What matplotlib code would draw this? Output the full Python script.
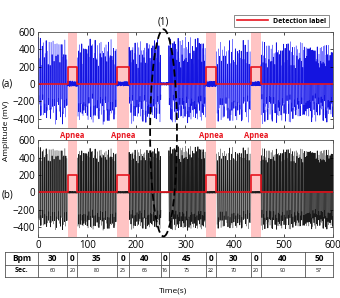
import numpy as np
import matplotlib
matplotlib.use("Agg")
import matplotlib.pyplot as plt
from matplotlib.patches import Ellipse

plt.rcParams['font.family'] = ['Open Sans', 'DejaVu Sans']

# segments
bpm = [30, 0, 35, 0, 40, 0, 45, 0, 30, 0, 40, 50]
secs = [60, 20, 80, 25, 65, 16, 75, 22, 70, 20, 90, 57]
# apnea segments (bpm == 0) picked up by the detector, in order
detected = [1, 1, 0, 1, 1]

# rough envelope of each segment (mV)
amp_a_top = [560, 35, 550, 30, 520, 20, 540, 35, 520, 30, 500, 470]
amp_a_bot = [-470, -30, -480, -25, -470, -15, -460, -35, -470, -25, -460, -440]
amp_b_top = [530, 10, 520, 10, 510, 6, 530, 10, 520, 10, 510, 500]
amp_b_bot = [-430, -8, -440, -8, -430, -6, -440, -8, -430, -8, -430, -420]
# cycle to cycle spread of the peaks (two lists of different length)
cycle_scale = [1.0, 0.55, 0.93, 0.38, 0.82, 0.97, 0.47, 0.74, 0.99, 0.62,
               0.42, 0.9, 0.33, 0.86, 0.68, 0.95, 0.5, 0.79, 0.58]
cycle_scale2 = [0.95, 0.8, 1.0, 0.72, 0.9, 0.85, 0.98, 0.76, 0.88, 1.0, 0.7,
                0.93, 0.82, 0.97, 0.78, 0.91, 0.74, 1.0, 0.86, 0.8, 0.96, 0.84,
                0.9]

edges = np.concatenate([[0], np.cumsum(secs)])


def build_signal(tops, bots, every, spread):
    ts, ys, dark = [], [], []
    k = 0
    for i, b in enumerate(bpm):
        period = 60.0 / b if b > 0 else 0.6
        t0, t1 = edges[i], edges[i + 1]
        n = int(round((t1 - t0) / period))
        period = (t1 - t0) / n
        ph = np.linspace(0, 1, 9)[:-1]
        for c in range(n):
            s = np.sin(2 * np.pi * ph)
            f = cycle_scale[k % 19] * cycle_scale2[k % 23]
            g = cycle_scale[(k * 7 + 3) % 19] * cycle_scale2[(k * 5 + 1) % 23]
            f = 1 - spread * (1 - f)
            g = 1 - spread * (1 - g)
            y = np.where(s > 0, s * tops[i] * f, -s * bots[i] * g)
            ts.append(t0 + period * (c + ph))
            ys.append(y)
            dark.append(np.full(len(ph), k % every == 0))
            k += 1
    return np.concatenate(ts), np.concatenate(ys), np.concatenate(dark)


# detection label as a step line
lab_x, lab_y = [], []
j = 0
for i, b in enumerate(bpm):
    lvl = 0
    if b == 0:
        lvl = 200 if detected[j] else 0
        j += 1
    lab_x += [edges[i], edges[i + 1]]
    lab_y += [lvl, lvl]

apnea_spans = []
j = 0
for i, b in enumerate(bpm):
    if b == 0:
        if detected[j]:
            apnea_spans.append((edges[i], edges[i + 1]))
        j += 1

fig = plt.figure(figsize=(3.4, 2.98), dpi=100)
ax_a = fig.add_axes([0.112, 0.570, 0.867, 0.323])
ax_b = fig.add_axes([0.112, 0.205, 0.867, 0.325])

panels = [(ax_a, amp_a_top, amp_a_bot, '#7878ff', '#1414e0', 2, 0.85),
          (ax_b, amp_b_top, amp_b_bot, '#8a8a8a', '#1a1a1a', 2, 0.45)]
for ax, tops, bots, light, darkc, every, spread in panels:
    for s0, s1 in apnea_spans:
        ax.axvspan(s0, s1, color='#ffc4c4', lw=0, zorder=0)
    t, y, dk = build_signal(tops, bots, every, spread)
    ax.plot(t, y, color=light, lw=0.4, zorder=1)
    ax.plot(t, np.where(dk, y, np.nan), color=darkc, lw=0.5, zorder=1)
    ax.plot(lab_x, lab_y, color='#e8141e', lw=1.2, zorder=2)
    ax.set_xlim(0, 600)
    ax.set_ylim(-510, 600)
    ax.set_yticks([-400, -200, 0, 200, 400, 600])
    ax.set_xticks(range(0, 601, 100))
    ax.tick_params(direction='in', length=2, width=0.5, top=True, right=True,
                   labelsize=7, pad=2)
    for sp in ax.spines.values():
        sp.set_linewidth(0.6)
        sp.set_color('#555555')
ax_a.set_xticklabels([])

ax_a.plot([], [], color='#e8141e', lw=1.2, label='Detection label')
leg = ax_a.legend(loc='lower right', bbox_to_anchor=(1.0, 1.01),
                  frameon=True, fancybox=False, handlelength=4.5,
                  borderpad=0.4, prop={'weight': 'bold', 'size': 5})
leg.get_frame().set_edgecolor('#555555')
leg.get_frame().set_linewidth(0.6)

# apnea captions between the panels
for s0, s1 in apnea_spans:
    ax_a.text((s0 + s1) / 2, -600, 'Apnea', color='#e8141e', fontsize=5.5,
              fontweight='bold', ha='center', va='center', clip_on=False)

fig.text(0.021, 0.718, '(a)', fontsize=7, ha='center', va='center')
fig.text(0.021, 0.346, '(b)', fontsize=7, ha='center', va='center')
fig.text(0.018, 0.56, 'Amplitude (mV)', fontsize=6, rotation=90,
         ha='center', va='center')
fig.text(0.481, 0.926, '(1)', fontsize=7, ha='center', va='center')
fig.text(0.51, 0.022, 'Time(s)', fontsize=6, ha='center', va='center')

fig.patches.append(Ellipse((0.481, 0.554), 0.079, 0.695, transform=fig.transFigure,
                           fill=False, ec='black', lw=1.3, ls=(0, (4, 2))))

# table of bpm / duration
ax_t = fig.add_axes([0.0147, 0.070, 0.9643, 0.084])
ax_t.set_xlim(-67, 600)
ax_t.set_ylim(0, 2)
ax_t.axis('off')
cols = [-67] + list(edges)
for x in cols:
    ax_t.plot([x, x], [0, 2], color='#555555', lw=0.6, clip_on=False)
for yy in [0, 1, 2]:
    ax_t.plot([-67, 600], [yy, yy], color='#555555', lw=0.6, clip_on=False)
ax_t.text(-33.5, 1.5, 'Bpm', fontsize=6, fontweight='bold', ha='center', va='center')
ax_t.text(-33.5, 0.5, 'Sec.', fontsize=5, fontweight='bold', ha='center', va='center')
for i in range(len(bpm)):
    xc = (edges[i] + edges[i + 1]) / 2
    ax_t.text(xc, 1.5, str(bpm[i]), fontsize=6, fontweight='bold',
              ha='center', va='center')
    ax_t.text(xc, 0.5, str(secs[i]), fontsize=3.8, ha='center', va='center')

fig.savefig('out.png', dpi=100)
